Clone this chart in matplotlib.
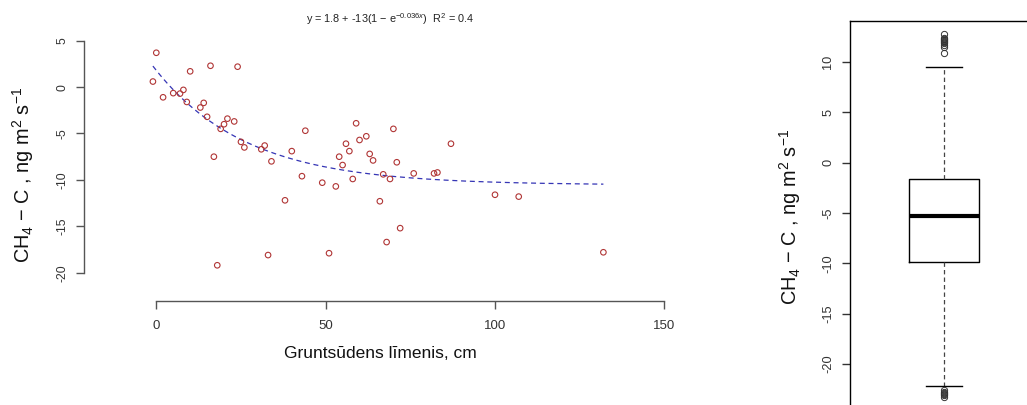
import numpy as np
import matplotlib
matplotlib.use("Agg")
import matplotlib.pyplot as plt

plt.rcParams['font.family'] = ['Liberation Sans', 'DejaVu Sans']
plt.rcParams['mathtext.fontset'] = 'custom'
plt.rcParams['mathtext.rm'] = 'Liberation Sans'
plt.rcParams['mathtext.it'] = 'Liberation Sans:italic'
plt.rcParams['mathtext.bf'] = 'Liberation Sans:bold'

# ---- data: groundwater level (cm) vs CH4-C flux ----
water_level = [-1, 0, 2, 5, 7, 8, 9, 10, 13, 14, 15, 16, 17, 18, 19, 20, 21, 23,
               24, 25, 26, 31, 32, 33, 34, 38, 40, 43, 44, 49, 51, 53, 54, 55,
               56, 57, 58, 59, 60, 62, 63, 64, 66, 67, 68, 69, 70, 71, 72, 76,
               82, 83, 87, 100, 107, 132]
ch4_flux = [0.6, 3.7, -1.1, -0.65, -0.7, -0.3, -1.6, 1.7, -2.2, -1.7, -3.2, 2.3,
            -7.5, -19.2, -4.5, -4.0, -3.4, -3.7, 2.2, -5.9, -6.5, -6.7, -6.3,
            -18.1, -8.0, -12.2, -6.9, -9.6, -4.7, -10.3, -17.9, -10.7, -7.5,
            -8.4, -6.1, -6.9, -9.9, -3.9, -5.7, -5.3, -7.2, -7.9, -12.3, -9.4,
            -16.7, -9.9, -4.5, -8.1, -15.2, -9.3, -9.3, -9.2, -6.1, -11.6,
            -11.8, -17.8]

# fitted exponential curve  y = a + b(1 - exp(-c x))
fit_a, fit_b, fit_c = 1.8, -12.35, 0.037
fit_label = r"y = 1.8 + -13(1 $-$ e$^{-0.036x}$)  R$^2$ = 0.4"

x_ticks = [0, 50, 100, 150]
y_ticks_left = [-20, -15, -10, -5, 0, 5]
y_ticks_right = [-20, -15, -10, -5, 0, 5, 10]

# ---- boxplot summary of CH4-C flux ----
box_median = -5.3
box_q1 = -9.9
box_q3 = -1.65
box_whislo = -22.2
box_whishi = 9.47
box_fliers = [10.9, 11.5, 11.7, 11.9, 12.0, 12.1, 12.2, 12.3, 12.4, 12.8,
              -22.6, -22.8, -22.9, -23.0, -23.1, -23.3]

ylabel = r"CH$_4$ $-$ C , ng m$^2$ s$^{-1}$"

W, H = 1027, 405
fig = plt.figure(figsize=(W / 100, H / 100), dpi=100)

def px_axes(l, t, r, b):
    return fig.add_axes([l / W, (H - b) / H, (r - l) / W, (b - t) / H])

axis_gray = '#555555'
text_col = '#333333'

# ---------------- left scatter ----------------
ax = px_axes(84, 30, 690, 301)
xs_per_px = 1 / 3.387
ys_per_px = 1 / 9.28
ax.set_xlim((84 - 156.3) * xs_per_px, (690 - 156.3) * xs_per_px)
ax.set_ylim((87.1 - 301) * ys_per_px, (87.1 - 30) * ys_per_px)

ax.scatter(water_level, ch4_flux, s=16, facecolors='none', edgecolors='#B03535',
           linewidths=0.8, zorder=3)
xf = np.linspace(min(water_level), max(water_level), 300)
ax.plot(xf, fit_a + fit_b * (1 - np.exp(-fit_c * xf)), color='#3535B5',
        lw=0.9, ls=(0, (4, 3)), zorder=2)

for s in ['top', 'right']:
    ax.spines[s].set_visible(False)
ax.spines['left'].set_bounds(-20, 5)
ax.spines['bottom'].set_bounds(0, 150)
for s in ['left', 'bottom']:
    ax.spines[s].set_color(axis_gray)
    ax.spines[s].set_linewidth(1.0)
ax.set_xticks(x_ticks)
ax.set_yticks(y_ticks_left)
ax.set_xticklabels([str(v) for v in x_ticks])
ax.set_yticklabels([str(v) for v in y_ticks_left], rotation=90, va='center')
ax.tick_params(axis='both', length=5.5, width=1.0, color=axis_gray,
               labelcolor=text_col)
ax.tick_params(axis='x', pad=8, labelsize=9.5)
ax.tick_params(axis='y', pad=6, labelsize=8.8)
ax.set_facecolor('none')

fig.text(380 / W, 1 - 354 / H, "Gruntsūdens līmenis, cm", ha='center', va='center',
         fontsize=12.5, color='#111111')
fig.text(23 / W, 1 - 175 / H, ylabel, ha='center', va='center', rotation=90,
         fontsize=14.3, color='#111111')
fig.text(390 / W, 1 - 19 / H, fit_label, ha='center', va='center',
         fontsize=7.8, color='#222222')

# ---------------- right boxplot ----------------
bx = px_axes(850, 21.3, 1030, 420)
bx.set_ylim((162.7 - 420) / 10.07, (162.7 - 21.3) / 10.07)
bx.set_xlim(0, 1.916)
stats = [dict(med=box_median, q1=box_q1, q3=box_q3, whislo=box_whislo,
              whishi=box_whishi, fliers=box_fliers)]
bx.bxp(stats, positions=[1], widths=0.745, patch_artist=False,
       boxprops=dict(color='black', lw=1.0),
       medianprops=dict(color='black', lw=3.0, solid_capstyle='butt'),
       whiskerprops=dict(color='#444444', lw=0.9, ls=(0, (3.5, 2.5))),
       capprops=dict(color='black', lw=1.0),
       capwidths=0.383,
       flierprops=dict(marker='o', markerfacecolor='none', markeredgecolor='#333333',
                       markersize=4.5, markeredgewidth=0.7))
bx.set_xticks([])
bx.set_yticks(y_ticks_right)
bx.set_yticklabels([str(v) for v in y_ticks_right], rotation=90, va='center')
bx.tick_params(axis='y', length=5.5, width=1.0, color='#333333',
               labelcolor=text_col, labelsize=9.2, pad=6)
for s in bx.spines.values():
    s.set_color('black')
    s.set_linewidth(1.0)
fig.text(790 / W, 1 - 217 / H, ylabel, ha='center', va='center', rotation=90,
         fontsize=14.3, color='#111111')

fig.savefig('out.png', dpi=100)
